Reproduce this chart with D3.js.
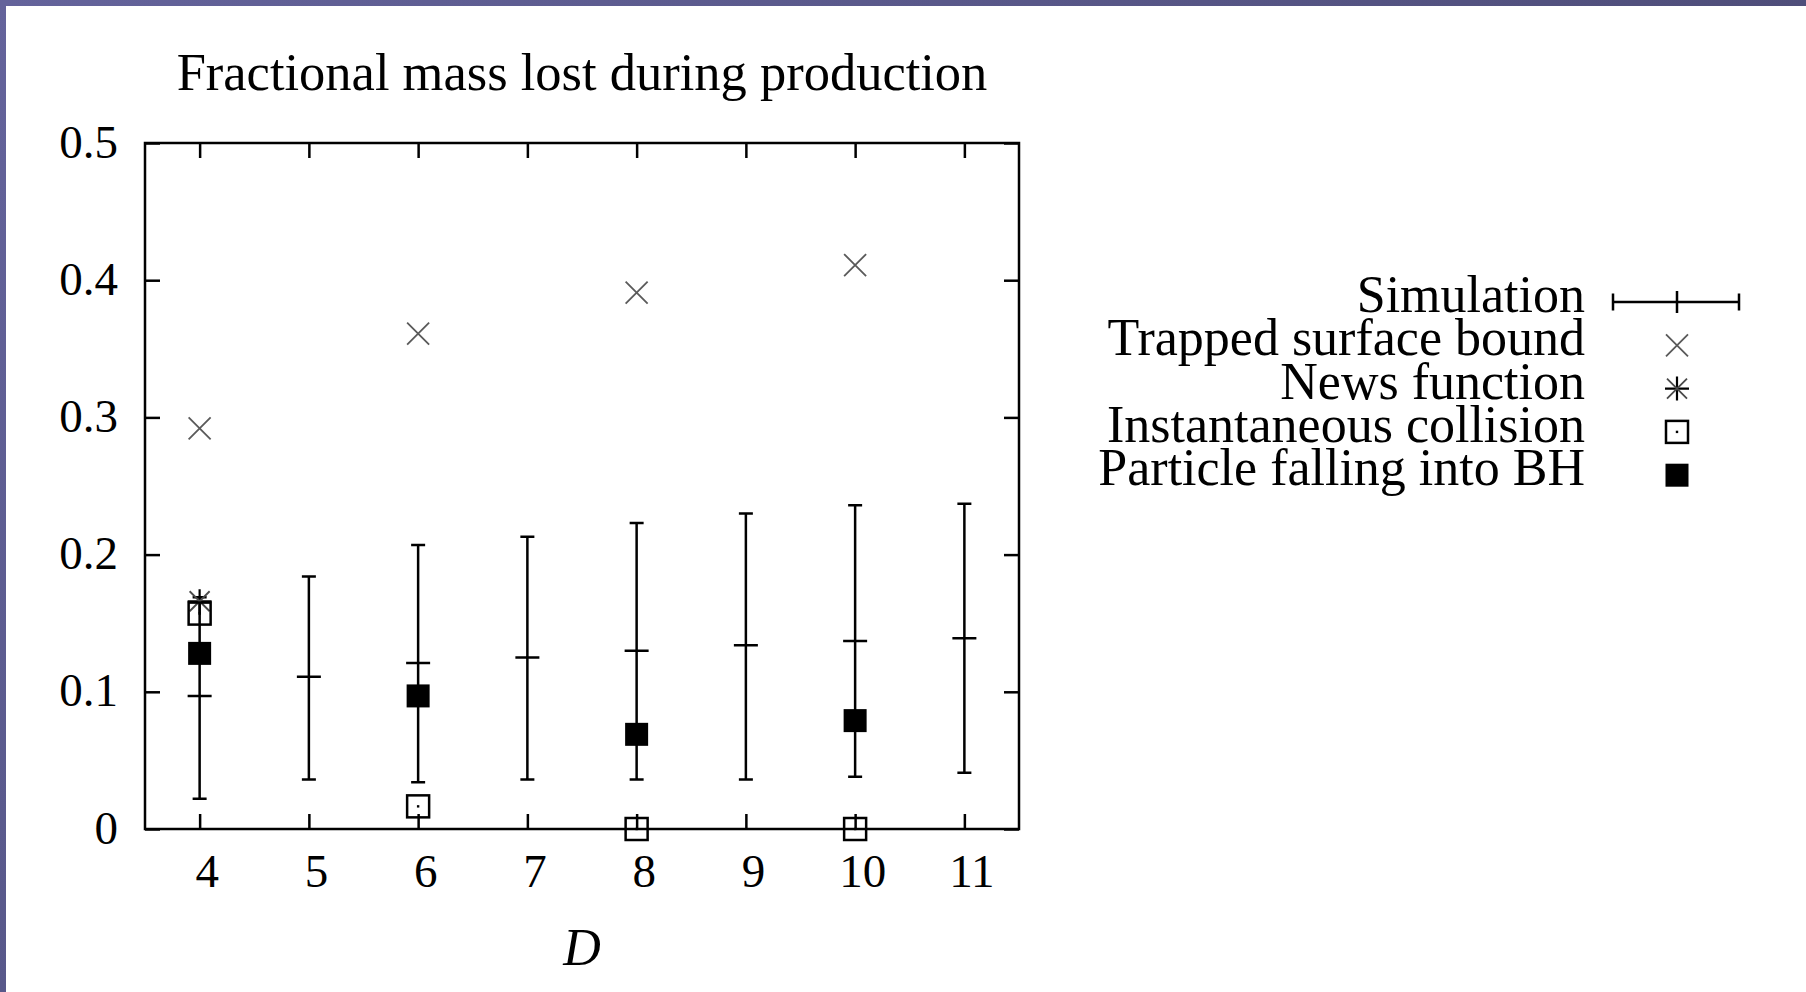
<!DOCTYPE html>
<html>
<head>
<meta charset="utf-8">
<script src="https://cdn.jsdelivr.net/npm/d3@7"></script>
<style>
  html, body { margin: 0; padding: 0; background: #ffffff; }
  svg { display: block; }
  text { font-family: "Liberation Serif", "DejaVu Serif", serif; fill: #000; }
</style>
</head>
<body>
<svg id="chart" width="1806" height="992"></svg>
<script>
// ---------------- data ----------------
const titleText = "Fractional mass lost during production";
const xLabelText = "D";
const xTicks = [4, 5, 6, 7, 8, 9, 10, 11];
const xTickLabels = ["4", "5", "6", "7", "8", "9", "10", "11"];
const yTicks = [0, 0.1, 0.2, 0.3, 0.4, 0.5];
const yTickLabels = ["0", "0.1", "0.2", "0.3", "0.4", "0.5"];

// Simulation (error bars)
const simD    = [4, 5, 6, 7, 8, 9, 10, 11];
const simMid  = [0.097, 0.111, 0.121, 0.125, 0.130, 0.134, 0.137, 0.139];
const simLow  = [0.022, 0.036, 0.034, 0.036, 0.036, 0.036, 0.038, 0.041];
const simHigh = [0.169, 0.184, 0.207, 0.213, 0.223, 0.230, 0.236, 0.237];

// Trapped surface bound (x)
const trappedD = [4, 6, 8, 10];
const trappedV = [0.292, 0.361, 0.391, 0.411];

// News function (*)
const newsD = [4];
const newsV = [0.166];

// Instantaneous collision (open square)
const instD = [4, 6, 8, 10];
const instV = [0.157, 0.0165, 0, 0];

// Particle falling into BH (filled square)
const partD = [4, 6, 8, 10];
const partV = [0.128, 0.097, 0.069, 0.079];

const legendLabels = ["Simulation", "Trapped surface bound", "News function",
                      "Instantaneous collision", "Particle falling into BH"];

// ---------------- layout ----------------
const W = 1806, H = 992;
const plot = { left: 145, right: 1019, top: 143, bottom: 829 };
const svg = d3.select("#chart");

// slide background frame
const defs = svg.append("defs");
const grad = defs.append("linearGradient").attr("id", "topgrad")
  .attr("x1", "0").attr("x2", "1").attr("y1", "0").attr("y2", "0");
grad.append("stop").attr("offset", "0").attr("stop-color", "#64639b");
grad.append("stop").attr("offset", "1").attr("stop-color", "#4f4e7a");
const grad2 = defs.append("linearGradient").attr("id", "leftgrad")
  .attr("x1", "0").attr("x2", "0").attr("y1", "0").attr("y2", "1");
grad2.append("stop").attr("offset", "0").attr("stop-color", "#64639b");
grad2.append("stop").attr("offset", "1").attr("stop-color", "#58588a");
svg.append("rect").attr("x", 0).attr("y", 0).attr("width", W).attr("height", H).attr("fill", "#fff");
svg.append("rect").attr("x", 0).attr("y", 0).attr("width", W).attr("height", 6).attr("fill", "url(#topgrad)");
svg.append("rect").attr("x", 0).attr("y", 0).attr("width", 6).attr("height", H).attr("fill", "url(#leftgrad)");

const x = d3.scaleLinear().domain([3.5, 11.5]).range([plot.left, plot.right]);
const y = d3.scaleLinear().domain([0, 0.5]).range([plot.bottom, plot.top]);

const LW = 2.5;
const TICK = 15;

// axes (inward ticks on all four sides)
const gB = svg.append("g").attr("transform", `translate(0,${plot.bottom})`)
  .call(d3.axisBottom(x).tickValues(xTicks).tickSize(-TICK)
        .tickFormat((d, i) => xTickLabels[i]));
gB.select(".domain").remove();
gB.selectAll("line").attr("stroke", "#000").attr("stroke-width", LW);
gB.selectAll("text").attr("y", 58).attr("dy", null).attr("x", 7)
  .attr("font-size", 47).attr("font-family", "Liberation Serif").attr("fill", "#000");

const gT = svg.append("g").attr("transform", `translate(0,${plot.top})`)
  .call(d3.axisTop(x).tickValues(xTicks).tickSize(-TICK).tickFormat(""));
gT.select(".domain").remove();
gT.selectAll("line").attr("stroke", "#000").attr("stroke-width", LW);

const gL = svg.append("g").attr("transform", `translate(${plot.left},0)`)
  .call(d3.axisLeft(y).tickValues(yTicks).tickSize(-TICK)
        .tickFormat((d, i) => yTickLabels[i]));
gL.select(".domain").remove();
gL.selectAll("line").attr("stroke", "#000").attr("stroke-width", LW);
gL.selectAll("text").attr("x", -27).attr("dy", 14)
  .attr("font-size", 47).attr("font-family", "Liberation Serif").attr("fill", "#000");

const gR = svg.append("g").attr("transform", `translate(${plot.right},0)`)
  .call(d3.axisRight(y).tickValues(yTicks).tickSize(-TICK).tickFormat(""));
gR.select(".domain").remove();
gR.selectAll("line").attr("stroke", "#000").attr("stroke-width", LW);

// frame
svg.append("rect")
  .attr("x", plot.left).attr("y", plot.top)
  .attr("width", plot.right - plot.left).attr("height", plot.bottom - plot.top)
  .attr("fill", "none").attr("stroke", "#000").attr("stroke-width", LW);

// title & axis label
svg.append("text").attr("x", (plot.left + plot.right) / 2).attr("y", 90)
  .attr("text-anchor", "middle").attr("font-size", 52.5).text(titleText);
svg.append("text").attr("x", (plot.left + plot.right) / 2).attr("y", 965)
  .attr("text-anchor", "middle").attr("font-size", 52).attr("font-style", "italic").text(xLabelText);

// ---------------- marks ----------------
const marks = svg.append("g");

// symbol drawing helpers
function drawErrorBar(g, cx, yTop, yMid, yBot) {
  const cap = 7, mid = 12;
  const p = d3.path();
  p.moveTo(cx, yTop); p.lineTo(cx, yBot);
  p.moveTo(cx - cap, yTop); p.lineTo(cx + cap, yTop);
  p.moveTo(cx - cap, yBot); p.lineTo(cx + cap, yBot);
  p.moveTo(cx - mid, yMid); p.lineTo(cx + mid, yMid);
  g.append("path").attr("d", p.toString()).attr("stroke", "#000")
    .attr("stroke-width", LW).attr("fill", "none");
}
function drawCross(g, cx, cy) {
  const s = 11;
  const p = d3.path();
  p.moveTo(cx - s, cy - s); p.lineTo(cx + s, cy + s);
  p.moveTo(cx - s, cy + s); p.lineTo(cx + s, cy - s);
  g.append("path").attr("d", p.toString()).attr("stroke", "#5a5a5a")
    .attr("stroke-width", 1.8).attr("fill", "none");
}
function drawStar(g, cx, cy) {
  const s = 12, d = 10;
  const p = d3.path();
  p.moveTo(cx, cy - s); p.lineTo(cx, cy + s);
  p.moveTo(cx - s, cy); p.lineTo(cx + s, cy);
  g.append("path").attr("d", p.toString()).attr("stroke", "#000")
    .attr("stroke-width", 2.2).attr("fill", "none");
  const q = d3.path();
  q.moveTo(cx - d, cy - d); q.lineTo(cx + d, cy + d);
  q.moveTo(cx - d, cy + d); q.lineTo(cx + d, cy - d);
  g.append("path").attr("d", q.toString()).attr("stroke", "#4a4a4a")
    .attr("stroke-width", 1.8).attr("fill", "none");
}
function drawOpenSquare(g, cx, cy) {
  const s = 11;
  g.append("rect").attr("x", cx - s).attr("y", cy - s)
    .attr("width", 2 * s).attr("height", 2 * s)
    .attr("fill", "none").attr("stroke", "#000").attr("stroke-width", 2.5);
  g.append("rect").attr("x", cx - 1.2).attr("y", cy - 1.2)
    .attr("width", 2.4).attr("height", 2.4).attr("fill", "#000");
}
function drawFilledSquare(g, cx, cy) {
  const s = 11.5;
  g.append("rect").attr("x", cx - s).attr("y", cy - s)
    .attr("width", 2 * s).attr("height", 2 * s).attr("fill", "#000");
}

// Simulation error bars
simD.forEach((d, i) => drawErrorBar(marks, x(d), y(simHigh[i]), y(simMid[i]), y(simLow[i])));
// Trapped surface bound
trappedD.forEach((d, i) => drawCross(marks, x(d), y(trappedV[i])));
// News function
newsD.forEach((d, i) => drawStar(marks, x(d), y(newsV[i])));
// Instantaneous collision
instD.forEach((d, i) => drawOpenSquare(marks, x(d), y(instV[i])));
// Particle falling into BH
partD.forEach((d, i) => drawFilledSquare(marks, x(d), y(partV[i])));

// ---------------- legend ----------------
const leg = svg.append("g");
const legTextX = 1585, legSymX = 1677, legY0 = 302, legDy = 43.3;
legendLabels.forEach((lab, i) => {
  leg.append("text").attr("x", legTextX).attr("y", legY0 + i * legDy + 10)
    .attr("text-anchor", "end").attr("font-size", 52).text(lab);
});
// Simulation sample: horizontal error bar
(function () {
  const cy = legY0, x0 = 1613, x1 = 1739;
  const p = d3.path();
  p.moveTo(x0, cy); p.lineTo(x1, cy);
  p.moveTo(x0, cy - 8.5); p.lineTo(x0, cy + 8.5);
  p.moveTo(x1, cy - 8.5); p.lineTo(x1, cy + 8.5);
  p.moveTo(legSymX, cy - 11); p.lineTo(legSymX, cy + 11);
  leg.append("path").attr("d", p.toString()).attr("stroke", "#000")
    .attr("stroke-width", LW).attr("fill", "none");
})();
drawCross(leg, legSymX, legY0 + 1 * legDy);
drawStar(leg, legSymX, legY0 + 2 * legDy);
drawOpenSquare(leg, legSymX, legY0 + 3 * legDy);
drawFilledSquare(leg, legSymX, legY0 + 4 * legDy);
</script>
</body>
</html>
